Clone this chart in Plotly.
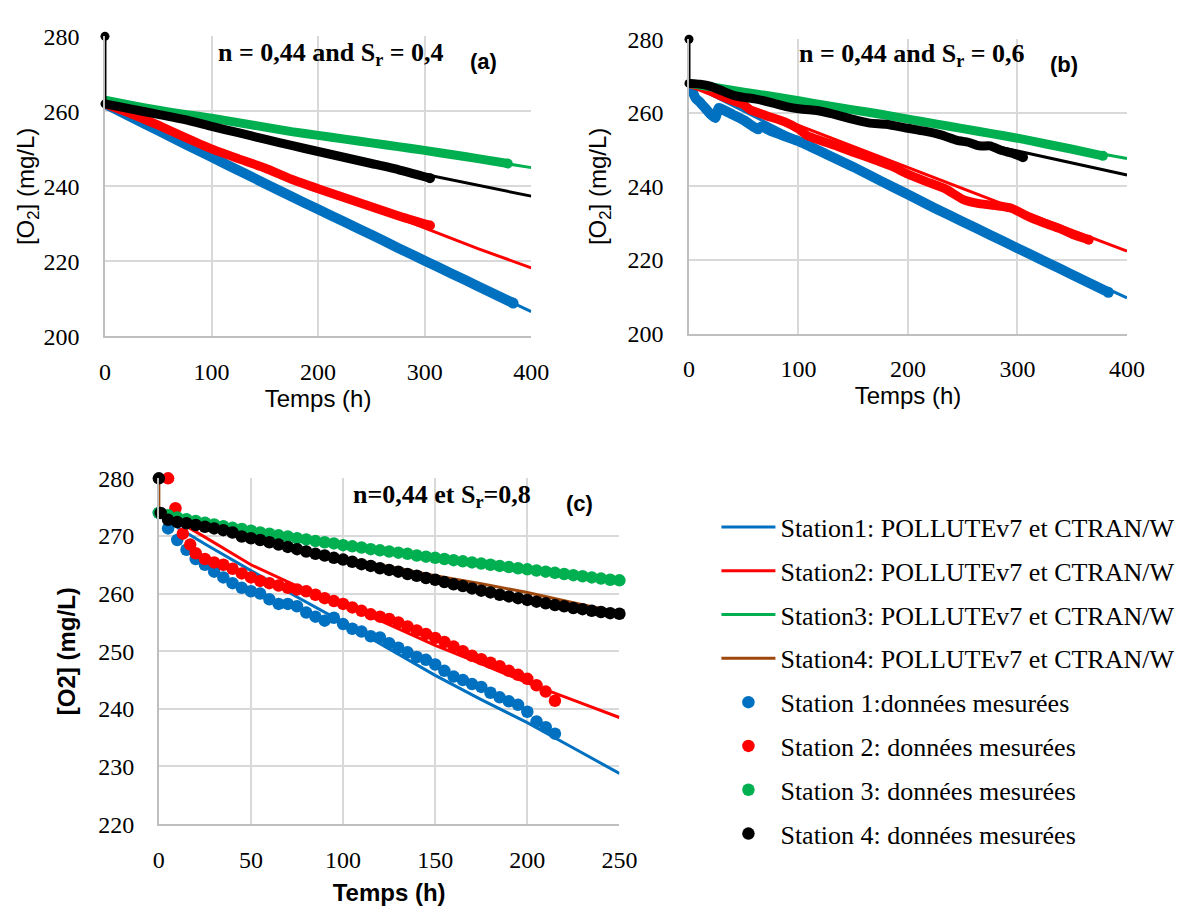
import plotly.graph_objects as go

# ---------------- DATA ----------------
# Panel (a): n = 0,44 and Sr = 0,4
a_model_t = [0, 50, 100, 150, 200, 250, 300, 350, 400]
a_model_s1 = [262, 254.9, 247.8, 240.8, 233.9, 227.1, 220.2, 213.4, 206.6]
a_model_s2 = [262, 256.2, 250.2, 244.8, 239.4, 234.4, 228.8, 223.4, 218.3]
a_model_s3 = [263, 260.5, 258.2, 255.9, 253.6, 251.6, 249.6, 247.3, 245.0]
a_model_s4 = [262, 259.2, 256.0, 252.6, 249.3, 246.1, 243.2, 240.2, 237.4]

a_meas_t_s1 = [0, 25, 50, 75, 100, 125, 150, 175, 200, 225, 250, 275, 300, 325, 350, 383]
a_meas_s1 = [262, 258.4, 254.9, 251.3, 247.8, 244.3, 240.8, 237.3, 233.9, 230.5, 227.1, 223.6, 220.2, 216.8, 213.4, 208.9]
a_meas_t_s2 = [0, 25, 50, 75, 100, 125, 150, 175, 200, 225, 250, 275, 305]
a_meas_s2 = [262, 259.3, 256.3, 253.1, 250.0, 247.4, 244.9, 241.9, 239.4, 237.0, 234.6, 232.2, 229.6]
a_meas_t_s3 = [0, 25, 50, 75, 100, 125, 150, 175, 200, 225, 250, 275, 300, 325, 350, 378]
a_meas_s3 = [263, 261.6, 260.3, 259.2, 258.2, 257.0, 255.8, 254.6, 253.6, 252.6, 251.6, 250.6, 249.6, 248.5, 247.4, 246.1]
a_meas_t_s4 = [0, 25, 50, 75, 100, 125, 150, 175, 200, 225, 250, 275, 305]
a_meas_s4 = [262, 260.6, 259.2, 257.8, 256.0, 254.3, 252.6, 250.9, 249.3, 247.7, 246.1, 244.5, 242.2]
a_init_t = [0, 0]
a_init_o2 = [280, 262]

# Panel (b): n = 0,44 and Sr = 0,6
b_model_t = [0, 100, 200, 300, 400]
b_model_s1 = [268, 252.8, 237.8, 223.4, 209.7]
b_model_s2 = [268, 256.5, 245.0, 233.7, 222.4]
b_model_s3 = [268, 263.2, 258.2, 253.0, 247.6]
b_model_s4 = [268, 261.5, 255.8, 249.6, 243.1]

b_meas_t_s1 = [0, 3, 6, 10, 15, 20, 24, 27, 30, 40, 50, 60, 63, 66, 75, 100, 125, 150, 175, 200, 225, 250, 275, 300, 325, 350, 383]
b_meas_s1 = [268, 266, 264, 262.9, 261.2, 259.5, 258.6, 261.3, 261, 259.5, 258, 256, 255.5, 256.3, 255, 252.3, 248.8, 245.3, 241.5, 237.8, 234, 230.4, 226.8, 223.2, 219.6, 216, 211.2]
b_meas_t_s2 = [0, 10, 20, 30, 40, 50, 56, 70, 87, 100, 108, 120, 135, 150, 170, 185, 200, 215, 235, 250, 265, 285, 295, 310, 325, 338, 350, 365]
b_meas_s2 = [268, 267, 265.8, 264.5, 263.3, 262.2, 260.8, 259.3, 257.6, 255.6, 253.8, 252.5, 251, 249.3, 247.2, 245.5, 243.3, 241.5, 239.2, 236.5, 235.3, 234.6, 234, 231.8, 230, 228.6, 227, 225.5]
b_meas_t_s3 = [0, 25, 50, 75, 100, 125, 150, 175, 200, 225, 250, 275, 300, 325, 350, 378]
b_meas_s3 = [268, 266.8, 265.6, 264.5, 263.3, 262.0, 260.8, 259.6, 258.3, 257.0, 255.7, 254.4, 253.1, 251.6, 250.1, 248.3]
b_meas_t_s4 = [0, 10, 20, 30, 40, 50, 60, 75, 90, 100, 115, 130, 150, 165, 180, 200, 215, 230, 245, 255, 265, 275, 285, 295, 305]
b_meas_s4 = [268, 267.8, 267.2, 266, 264.8, 264.2, 263.8, 262.8, 261.6, 261.1, 260.7, 259.8, 258.2, 257.2, 256.9, 255.8, 255, 254, 252.5, 252, 251, 251, 249.8, 249, 247.9]
b_init_t = [0, 0]
b_init_o2 = [280, 268]

# Panel (c): n = 0,44 et Sr = 0,8
c_model_t = [0, 10, 25, 50, 75, 100, 125, 150, 175, 200, 225, 250]
c_model_s1 = [274, 271.5, 268.6, 264.0, 259.4, 255.0, 250.4, 245.8, 241.6, 237.6, 233.2, 228.8]
c_model_s2 = [274, 272.6, 269.8, 265.0, 261.3, 258.2, 254.6, 251.0, 247.8, 244.5, 241.5, 238.5]
c_model_s3 = [274, 273.2, 272.3, 270.9, 269.6, 268.4, 267.3, 266.2, 265.2, 264.2, 263.2, 262.3]
c_model_t_s4 = [0, 0, 10, 25, 50, 75, 100, 125, 150, 175, 200, 225, 250]
c_model_s4 = [280, 274, 272.6, 271.9, 269.9, 267.9, 266.2, 264.6, 263.1, 261.7, 260.2, 258.4, 256.7]

c_meas_t_s1 = [0, 5, 10, 15, 20, 25, 30, 35, 40, 45, 50, 55, 60, 65, 70, 75, 80, 85, 90, 95, 100,
               105, 110, 115, 120, 125, 130, 135, 140, 145, 150, 155, 160, 165, 170, 175, 180,
               185, 190, 195, 200, 205, 210, 215]
c_meas_s1 = [274, 271.3, 269.3, 267.6, 266, 265, 263.8, 262.8, 261.8, 261, 260.4, 260, 259, 258.2,
             258.2, 257.8, 256.7, 256, 255.3, 255.8, 254.7, 253.9, 253.4, 252.6, 252.4, 251.4,
             250.6, 249.8, 249, 248.5, 247.7, 246.6, 245.6, 245, 244.3, 243.8, 242.8, 242, 241.3,
             240.7, 239.5, 237.8, 236.8, 235.7]
c_meas_t_s2 = [5, 9, 13, 17, 20, 25, 30, 35, 40, 45, 50, 55, 60, 65, 70, 75, 80, 85, 90, 95, 100,
               105, 110, 115, 120, 125, 130, 135, 140, 145, 150, 155, 160, 165, 170, 175, 180,
               185, 190, 195, 200, 205, 210, 215]
c_meas_s2 = [280, 274.8, 270.4, 268.5, 267, 266, 265.4, 265, 264.3, 263.5, 262.8, 262.2, 261.8,
             261.4, 261, 260.7, 260.4, 259.8, 259.2, 258.7, 258.2, 257.6, 257, 256.4, 256.0,
             255.6, 255, 254.3, 253.6, 253, 252.3, 251.6, 250.8, 250, 249.2, 248.6, 248, 247.4,
             246.6, 245.9, 245.2, 244.1, 243, 241.4]
c_meas_t_s3 = [0, 5, 10, 15, 20, 25, 30, 35, 40, 45, 50, 55, 60, 65, 70, 75, 80, 85, 90, 95, 100,
               105, 110, 115, 120, 125, 130, 135, 140, 145, 150, 155, 160, 165, 170, 175, 180,
               185, 190, 195, 200, 205, 210, 215, 220, 225, 230, 235, 240, 245, 250]
c_meas_s3 = [274, 273.6, 273.2, 272.9, 272.6, 272.3, 272.0, 271.7, 271.4, 271.2, 270.9, 270.6,
             270.4, 270.1, 269.9, 269.6, 269.4, 269.1, 268.9, 268.7, 268.4, 268.2, 268.0, 267.7,
             267.5, 267.3, 267.1, 266.9, 266.6, 266.4, 266.2, 266.0, 265.8, 265.6, 265.4, 265.2,
             265.0, 264.8, 264.6, 264.4, 264.2, 264.0, 263.8, 263.6, 263.4, 263.2, 263.0, 262.8,
             262.6, 262.4, 262.3]
c_meas_t_s4 = [0, 1, 5, 10, 15, 20, 25, 30, 35, 40, 45, 50, 55, 60, 65, 70, 75, 80, 85, 90, 95,
               100, 105, 110, 115, 120, 125, 130, 135, 140, 145, 150, 155, 160, 165, 170, 175,
               180, 185, 190, 195, 200, 205, 210, 215, 220, 225, 230, 235, 240, 245, 250]
c_meas_s4 = [280, 274, 272.8, 272.4, 272.2, 271.9, 271.6, 271.3, 271.0, 270.6, 269.9, 269.6,
             269.3, 268.9, 268.5, 268.1, 267.7, 267.3, 266.9, 266.6, 266.2, 265.9, 265.5, 265.1,
             264.8, 264.4, 264.1, 263.8, 263.4, 263.1, 262.7, 262.4, 262.0, 261.6, 261.3, 260.9,
             260.5, 260.2, 259.8, 259.5, 259.2, 258.9, 258.6, 258.3, 258.0, 257.8, 257.5, 257.3,
             257.0, 256.8, 256.6, 256.5]

model_names = ["Station1: POLLUTEv7 et CTRAN/W", "Station2: POLLUTEv7 et CTRAN/W",
               "Station3: POLLUTEv7 et CTRAN/W", "Station4: POLLUTEv7 et CTRAN/W"]
meas_names = ["Station 1:données mesurées", "Station 2: données mesurées",
              "Station 3: données mesurées", "Station 4: données mesurées"]

# ---------------- STYLE ----------------
SERIF = "Liberation Serif"
SANS = "Liberation Sans"
BLUE, RED, GREEN, BLACK, BROWN = "#0070C0", "#FF0000", "#00B050", "#000000", "#9E480E"
W, H = 1194, 909

fig = go.Figure()

# ---- panels (a) and (b): model lines + dense measured bands ----
def add_ab(xa, ya, model_t, models, meas, init_t, init_o2):
    cols = [BLUE, RED, GREEN, BLACK]
    for y, c in zip(models, cols):
        fig.add_trace(go.Scatter(x=model_t, y=y, mode="lines", xaxis=xa, yaxis=ya,
                                 line=dict(color=c, width=3), showlegend=False,
                                 hoverinfo="skip"))
    for (t, y), c in zip(meas, cols):
        w = 10 if c == BLUE else 9
        end_sizes = [0] * (len(t) - 1) + [w + 1]   # rounded end of the dense band
        fig.add_trace(go.Scatter(x=t, y=y, mode="lines+markers", xaxis=xa, yaxis=ya,
                                 line=dict(color=c, width=w, shape="spline", smoothing=0.5),
                                 marker=dict(color=c, size=end_sizes, opacity=1,
                                             line=dict(width=0)),
                                 opacity=1, showlegend=False, hoverinfo="skip"))
    fig.add_trace(go.Scatter(x=init_t, y=init_o2, mode="lines+markers", xaxis=xa, yaxis=ya,
                             line=dict(color=BLACK, width=3), marker=dict(color=BLACK, size=9),
                             showlegend=False, cliponaxis=False, hoverinfo="skip"))

add_ab("x", "y", a_model_t, [a_model_s1, a_model_s2, a_model_s3, a_model_s4],
       [(a_meas_t_s1, a_meas_s1), (a_meas_t_s2, a_meas_s2), (a_meas_t_s3, a_meas_s3),
        (a_meas_t_s4, a_meas_s4)], a_init_t, a_init_o2)
add_ab("x2", "y2", b_model_t, [b_model_s1, b_model_s2, b_model_s3, b_model_s4],
       [(b_meas_t_s1, b_meas_s1), (b_meas_t_s2, b_meas_s2), (b_meas_t_s3, b_meas_s3),
        (b_meas_t_s4, b_meas_s4)], b_init_t, b_init_o2)

# ---- panel (c): with legend ----
c_models = [(c_model_t, c_model_s1, BLUE), (c_model_t, c_model_s2, RED),
            (c_model_t, c_model_s3, GREEN), (c_model_t_s4, c_model_s4, BROWN)]
for i, (t, y, c) in enumerate(c_models):
    fig.add_trace(go.Scatter(x=t, y=y, mode="lines", xaxis="x3", yaxis="y3",
                             name=model_names[i], legendgroup=f"m{i}",
                             line=dict(color=c, width=3), cliponaxis=False))
c_meas = [(c_meas_t_s1, c_meas_s1, BLUE), (c_meas_t_s2, c_meas_s2, RED),
          (c_meas_t_s3, c_meas_s3, GREEN), (c_meas_t_s4, c_meas_s4, BLACK)]
for i, (t, y, c) in enumerate(c_meas):
    fig.add_trace(go.Scatter(x=t, y=y, mode="markers", xaxis="x3", yaxis="y3",
                             name=meas_names[i], legendgroup=f"d{i}",
                             marker=dict(color=c, size=12.5, opacity=1), cliponaxis=False))

# ---------------- AXES ----------------
def axis(domain, rng, dtick, anchor, title, tfont, standoff, tls):
    return dict(domain=domain, range=rng, dtick=dtick, anchor=anchor,
                showgrid=True, gridcolor="#d9d9d9", gridwidth=1.5,
                showline=True, linecolor="#bfbfbf", linewidth=1.5,
                zeroline=False, ticks="", ticklabelstandoff=tls,
                tickfont=dict(family=SERIF, size=24, color="black"),
                title=dict(text=title, font=tfont, standoff=standoff))

sans_t = dict(family=SANS, size=24, color="black")
ytitle = "[O<sub>2</sub>] (mg/L)"
ax = [101 / W, 536 / W]
ay = [1 - 333 / H, 1 - 24 / H]
bx = [697 / W, 1144 / W]
by = [1 - 330 / H, 1 - 27 / H]
cx = [156 / W, 626 / W]
cy = [1 - 835 / H, 1 - 479 / H]

fig.update_layout(
    xaxis=axis(ax, [0, 400], 100, "y", "Temps (h)", sans_t, 5, 13),
    yaxis=axis(ay, [200, 280], 20, "x", ytitle, sans_t, 2, 19),
    xaxis2=axis(bx, [0, 400], 100, "y2", "Temps (h)", sans_t, 5, 13),
    yaxis2=axis(by, [200, 280], 20, "x2", ytitle, sans_t, 14, 19),
    xaxis3=axis(cx, [0, 250], 50, "y3", "<b>Temps (h)</b>", sans_t, 13, 13),
    yaxis3=axis(cy, [220, 280], 10, "x3", "<b>[O2] (mg/L)</b>", sans_t, 16, 18),
)

# ---------------- ANNOTATIONS ----------------
ann = [
    ("<b>n = 0,44 and S<sub>r</sub> = 0,4</b>", 332, 42, SERIF, 26),
    ("<b>(a)</b>", 487, 50, SANS, 22),
    ("<b>n = 0,44 and S<sub>r</sub> = 0,6</b>", 925, 43, SERIF, 26),
    ("<b>(b)</b>", 1080, 53, SANS, 22),
    ("<b>n=0,44 et S<sub>r</sub>=0,8</b>", 445, 497, SERIF, 26),
    ("<b>(c)</b>", 585, 505, SANS, 22),
]
for text, px, py, fam, sz in ann:
    fig.add_annotation(text=text, x=px / W, y=1 - py / H, xref="paper", yref="paper",
                       xanchor="center", yanchor="middle", showarrow=False,
                       font=dict(family=fam, size=sz, color="black"))

fig.update_layout(
    width=W, height=H, margin=dict(l=0, r=0, t=0, b=0),
    paper_bgcolor="white", plot_bgcolor="white",
    showlegend=True,
    legend=dict(x=725 / W, y=1 - 505 / H, xanchor="left", yanchor="top",
                font=dict(family=SERIF, size=26, color="black"),
                tracegroupgap=7, itemwidth=54, bgcolor="rgba(0,0,0,0)"),
)

fig.write_html("out.html", config={"displayModeBar": False},
               post_script="document.body.style.margin='0';document.body.style.overflow='hidden';")
